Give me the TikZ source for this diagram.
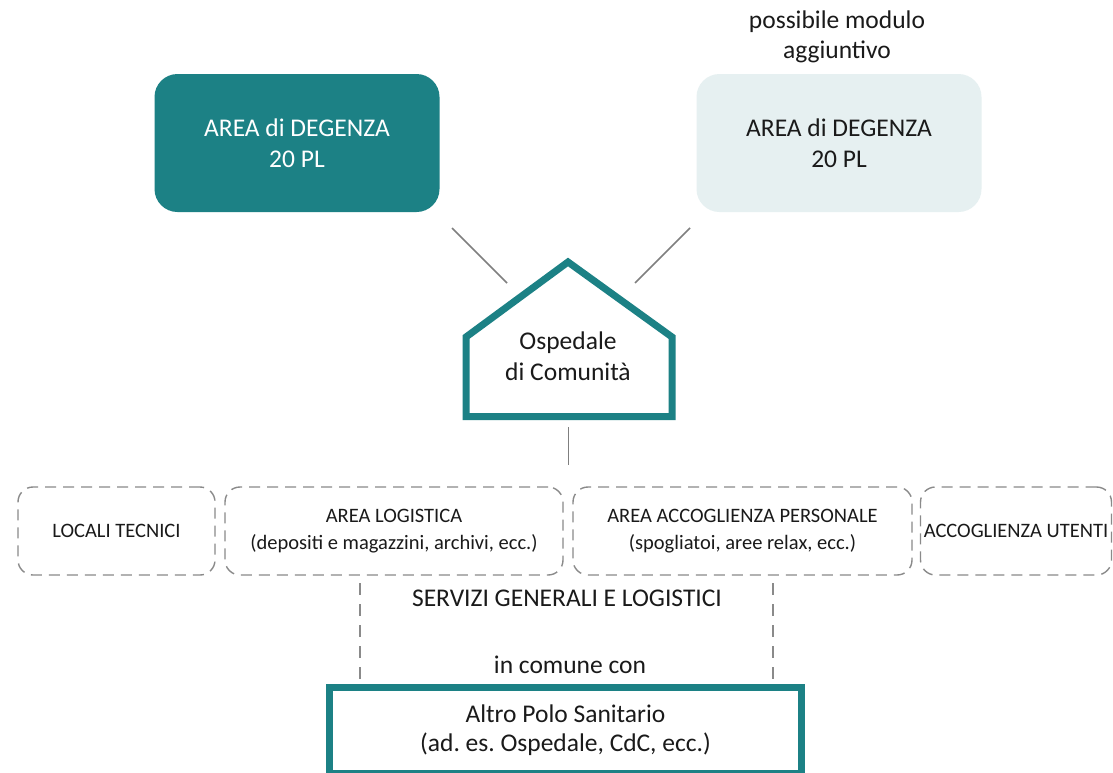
\documentclass[tikz,border=0pt]{standalone}
\usepackage{fontspec}
\setmainfont{Carlito}
\frenchspacing
\definecolor{teal1}{HTML}{1C8185}
\definecolor{light1}{HTML}{E6F0F1}
\definecolor{gline}{HTML}{7F7F7F}
\definecolor{gdash}{HTML}{8A8A8A}
\definecolor{txt}{HTML}{1A1A1A}
\begin{document}
\begin{tikzpicture}[x=1pt,y=-1pt,
  lbl/.style={font=\fontsize{25.5}{31}\selectfont, text=txt, align=center, inner sep=0pt},
  sml/.style={font=\fontsize{20.5}{27}\selectfont, text=txt, align=center, inner sep=0pt},
  topbox/.style={rounded corners=23pt, minimum width=285pt, minimum height=138pt, inner sep=0pt, align=center,
    font=\fontsize{25.5}{31}\selectfont},
  conn/.style={draw=gline, line width=1.5pt},
  dbox/.style={draw=gdash, line width=1.4pt, dash pattern=on 11pt off 7pt, rounded corners=15pt,
    minimum height=88pt, inner sep=0pt, align=center, font=\fontsize{20.5}{27}\selectfont, text=txt},
  vdash/.style={draw=gdash, line width=2pt, dash pattern=on 12pt off 9pt},
  housestyle/.style={draw=teal1, line width=7pt, line join=miter},
  basebox/.style={draw=teal1, line width=7pt, fill=white, minimum width=472pt, minimum height=86pt,
    inner sep=0pt, align=center, font=\fontsize{25.5}{29}\selectfont, text=txt}]
\useasboundingbox[fill=white] (0,0) rectangle (1113,772);

% top boxes
\node[topbox, fill=teal1, text=white] (deg1) at (297,143) {AREA di DEGENZA\\20 PL};
\node[topbox, fill=light1, text=txt] (deg2) at (839,143) {AREA di DEGENZA\\20 PL};
\node[lbl, font=\fontsize{25.5}{30}\selectfont] (poss) at (837,37) {possibile modulo\\aggiuntivo};

% connectors from top boxes to house
\coordinate (c1a) at (452,228);
\coordinate (c1b) at (507,283);
\coordinate (c2a) at (690,228);
\coordinate (c2b) at (635,283);
\draw[conn] (c1a) -- (c1b);
\draw[conn] (c2a) -- (c2b);

% house
\coordinate (hl) at (466,337);
\coordinate (ha) at (568,262);
\coordinate (hr) at (672,337);
\coordinate (hbr) at (672,416.5);
\coordinate (hbl) at (466,416.5);
\draw[housestyle] (hl) -- (ha) -- (hr) -- (hbr) -- (hbl) -- cycle;
\node[lbl, font=\fontsize{25.5}{31}\selectfont] (osp) at (568,356) {Ospedale\\di Comunit\`a};

% connector house to services
\coordinate (c3a) at (568.5,427);
\coordinate (c3b) at (568.5,465);
\draw[conn] (c3a) -- (c3b);

% dashed service boxes
\node[dbox, minimum width=197pt] (loc) at (116.5,531) {LOCALI TECNICI};
\node[dbox, minimum width=338pt] (logi) at (394,531) {AREA LOGISTICA\\(depositi e magazzini, archivi, ecc.)};
\node[dbox, minimum width=339pt] (acc) at (742.5,531) {AREA ACCOGLIENZA PERSONALE\\(spogliatoi, aree relax, ecc.)};
\node[dbox, minimum width=191pt] (ute) at (1016,531) {ACCOGLIENZA UTENTI};

\node[lbl] (serv) at (567,598) {SERVIZI GENERALI E LOGISTICI};
\node[lbl] (comune) at (570,665) {in comune con};

% bottom box
\node[basebox] (altro) at (565.5,730.5) {Altro Polo Sanitario\\(ad. es. Ospedale, CdC, ecc.)};

% dashed vertical connectors
\coordinate (v1a) at (360,583);
\coordinate (v2a) at (773,583);
\draw[vdash] (v1a) -- (v1a |- altro.north);
\draw[vdash] (v2a) -- (v2a |- altro.north);
\end{tikzpicture}
\end{document}
